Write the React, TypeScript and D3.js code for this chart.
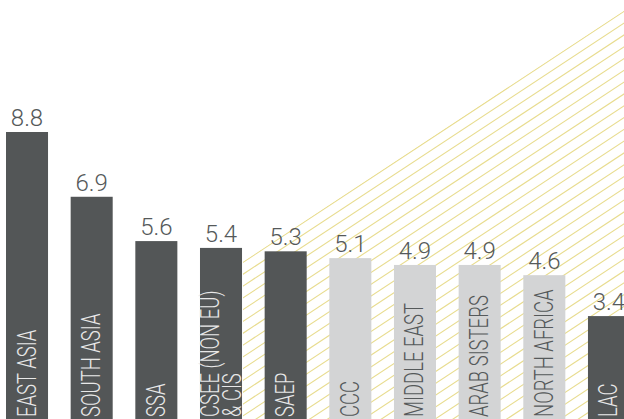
import React from "react";
import * as d3 from "d3";

const categories = [
  "EAST ASIA",
  "SOUTH ASIA",
  "SSA",
  "CSEE (NON EU)\n& CIS",
  "SAEP",
  "CCC",
  "MIDDLE EAST",
  "ARAB SISTERS",
  "NORTH AFRICA",
  "LAC",
];
const values = [8.8, 6.9, 5.6, 5.4, 5.3, 5.1, 4.9, 4.9, 4.6, 3.4];
const valueLabels = ["8.8", "6.9", "5.6", "5.4", "5.3", "5.1", "4.9", "4.9", "4.6", "3.4"];
const highlighted = [true, true, true, true, true, false, false, false, false, true];

const W = 624;
const H = 419;
const DARK = "#535657";
const LIGHT = "#d3d4d5";
const HATCH = "#e8dc8e";
const FONT = "Roboto, 'Noto Sans', sans-serif";

export default function App() {
  const x = d3.scaleBand<string>().domain(categories).range([6, 630]).paddingInner(0.35).paddingOuter(0);
  const y = d3.scaleLinear().domain([0, 8.8]).range([432, 132]);
  const bw = x.bandwidth();

  // hatch region: triangle bounded by the diagonal, the right edge and the bottom
  const slope = 0.659;
  const x0 = 400;
  const y0 = 159;
  const lineY = (px: number, k: number) => y0 + k * 11.8 - (px - x0) * slope;
  const hatchLeft = 243;
  const ks = d3.range(0, 60);
  const clipPts = [
    [hatchLeft, lineY(hatchLeft, 0) - 1],
    [W, lineY(W, 0) - 1],
    [W, H],
    [hatchLeft, H],
  ];

  return (
    <svg
      width={W}
      height={H}
      style={{ position: "absolute", left: 0, top: 0, background: "#fff" }}
    >
      <defs>
        <clipPath id="hatchClip">
          <polygon points={clipPts.map((p) => p.join(",")).join(" ")} />
        </clipPath>
      </defs>
      <rect width={W} height={H} fill="#fff" />
      <g clipPath="url(#hatchClip)">
        {ks.map((k) => (
          <line
            key={k}
            x1={hatchLeft - 10}
            y1={lineY(hatchLeft - 10, k)}
            x2={W + 10}
            y2={lineY(W + 10, k)}
            stroke={HATCH}
            strokeWidth={1.1}
          />
        ))}
      </g>
      {categories.map((c, i) => {
        const bx = x(c) as number;
        const cx = bx + bw / 2;
        const top = y(values[i]);
        const dark = highlighted[i];
        const lines = c.split("\n");
        const spacing = 22;
        const first = cx + 8.5 - ((lines.length - 1) * spacing) / 2;
        return (
          <g key={c}>
            <rect x={bx} y={top} width={bw} height={y(0) - top} fill={dark ? DARK : LIGHT} />
            <text
              x={cx}
              y={top - 6}
              textAnchor="middle"
              fontFamily={FONT}
              fontWeight={300}
              fontSize={24}
              fill="#55595a"
            >
              {valueLabels[i]}
            </text>
            {lines.map((ln, j) => (
              <text
                key={j}
                transform={`translate(${first + j * spacing},417) rotate(-90) scale(0.74,1)`}
                textAnchor="start"
                fontFamily={FONT}
                fontWeight={300}
                fontSize={25}
                fill={dark ? "#e8e8e8" : "#55595a"}
              >
                {ln}
              </text>
            ))}
          </g>
        );
      })}
    </svg>
  );
}
